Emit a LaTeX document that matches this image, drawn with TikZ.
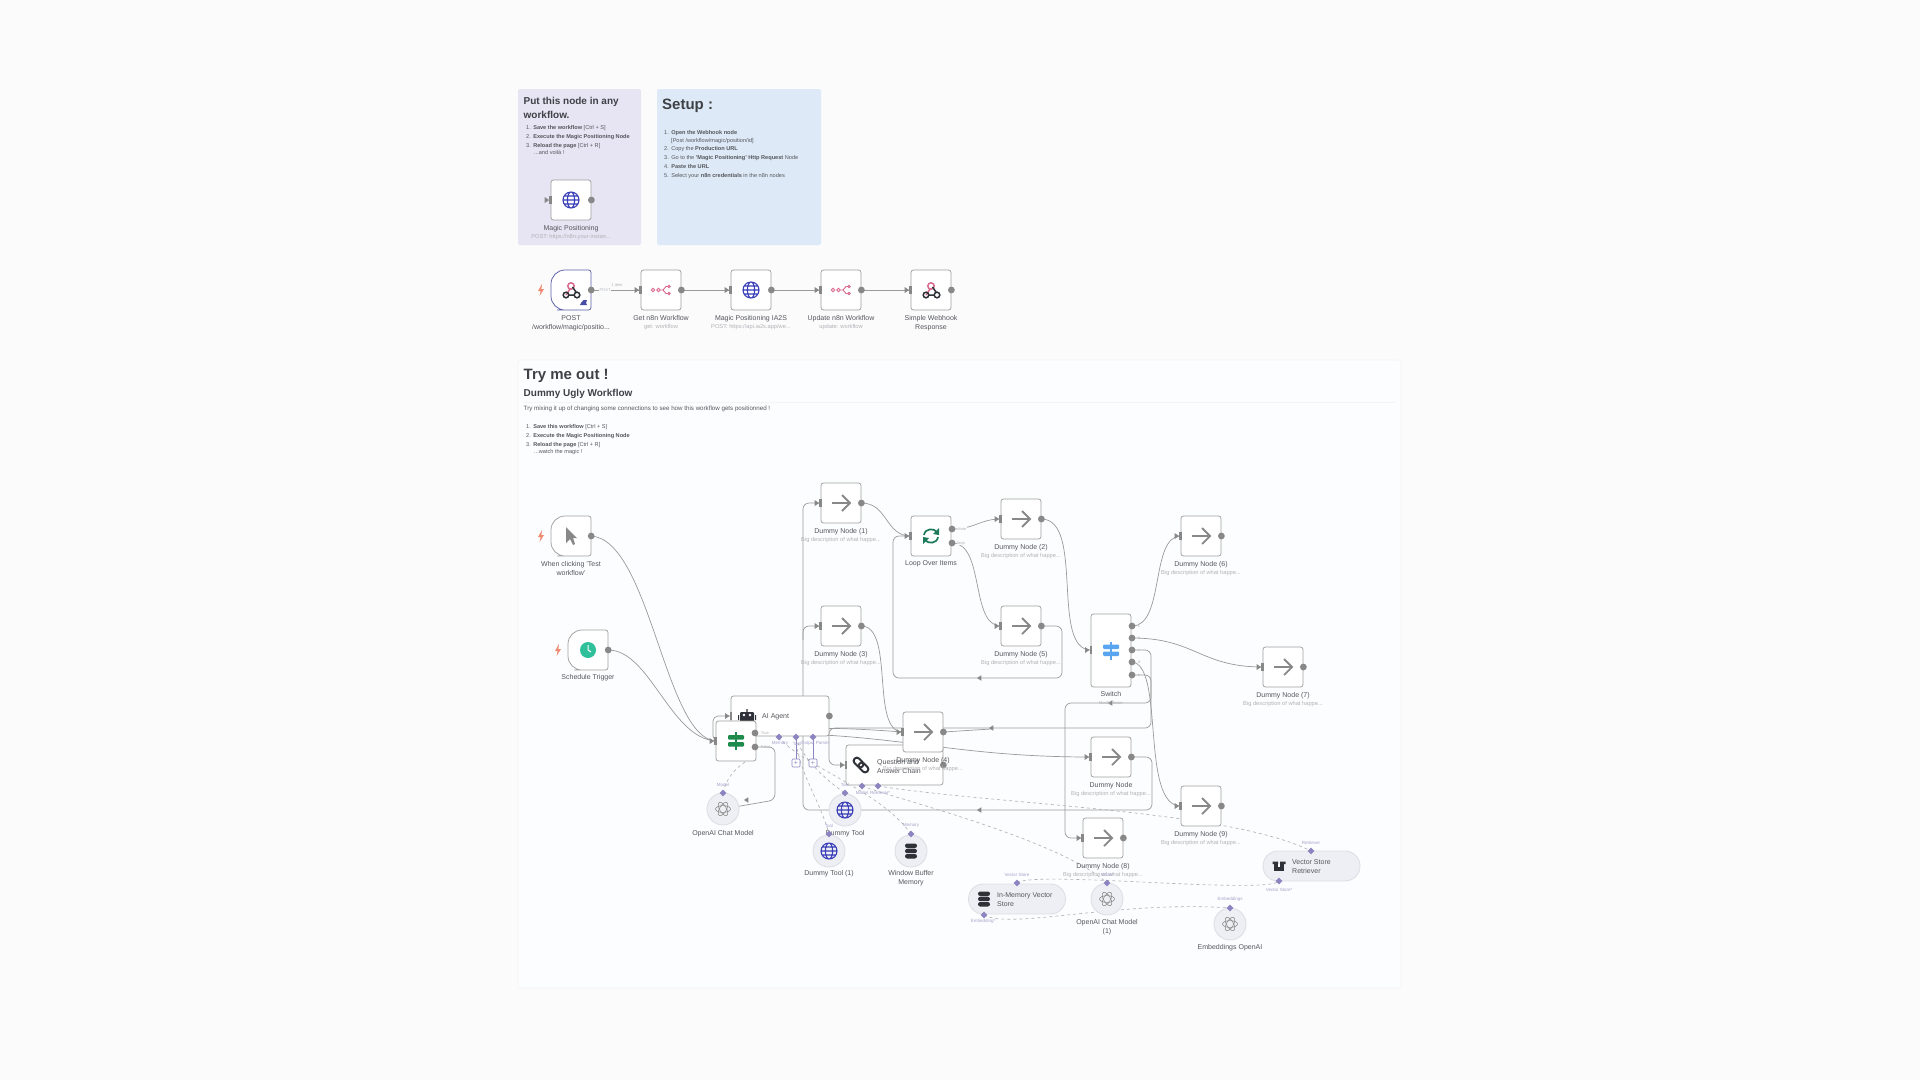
\documentclass[tikz,border=0pt]{standalone}
\usepackage{fontspec}
\setmainfont{Liberation Sans}
\definecolor{pagebg}{HTML}{FBFBFC}
\definecolor{framebg}{HTML}{FCFDFE}
\definecolor{frameln}{HTML}{F3F4F6}
\definecolor{stickyp}{HTML}{E7E4F3}
\definecolor{stickyb}{HTML}{DDE9F6}
\definecolor{nodeln}{HTML}{A0A0A0}
\definecolor{edgec}{HTML}{9A9A9A}
\definecolor{portc}{HTML}{888888}
\definecolor{labc}{HTML}{55575C}
\definecolor{subc}{HTML}{B2B2B6}
\definecolor{headc}{HTML}{3E4146}
\definecolor{purp}{HTML}{8A85C0}
\definecolor{purptx}{HTML}{A5A2CC}
\definecolor{subnode}{HTML}{EEEFF4}
\definecolor{subln}{HTML}{DEDFE4}
\definecolor{globec}{HTML}{3A3FB8}
\definecolor{pinkc}{HTML}{D9688C}
\definecolor{darkc}{HTML}{2E3238}
\definecolor{boltc}{HTML}{F08A72}
\definecolor{clockc}{HTML}{2FBF9B}
\definecolor{loopc}{HTML}{1C7A5A}
\definecolor{signblue}{HTML}{5AA5EF}
\definecolor{signgreen}{HTML}{1E8A4C}
\definecolor{hookln}{HTML}{5B5EA6}
\definecolor{pinc}{HTML}{4A4DA8}
\colorlet{signc}{signblue}
\newcommand{\fsz}[1]{\fontsize{#1}{#1}\selectfont}
\newcommand{\nsp}{\hspace{2.4pt}}
\tikzset{
  x=1pt,y=-1pt,
  box/.style={draw=nodeln,fill=white,line width=.75pt,rounded corners=2.5pt,minimum width=40pt,minimum height=40pt,inner sep=0pt},
  blank/.style={minimum width=40pt,minimum height=40pt,inner sep=0pt},
  circ/.style={circle,draw=subln,fill=subnode,line width=.9pt,minimum size=32pt,inner sep=0pt},
  pill/.style={draw=subln,fill=subnode,line width=.9pt,rounded corners=15pt,minimum width=97pt,minimum height=30pt,inner sep=0pt},
  edgeln/.style={draw=edgec,line width=.7pt},
  ortho/.style={draw=edgec,line width=.7pt,rounded corners=6pt},
  dashln/.style={draw=subc,line width=.65pt,dash pattern=on 3pt off 3pt},
  lab/.style={inner sep=0pt,text=labc,font=\fsz{7},align=center,yshift=-1pt},
  sublab/.style={inner sep=0pt,text=subc,font=\fsz{5.7},align=center},
  tiny/.style={inner sep=0pt,text=purptx,font=\fsz{4.5},yshift=-.5pt},
  tinyg/.style={inner sep=.6pt,text=subc,font=\fsz{4},fill=framebg},
  listtx/.style={inner sep=0pt,anchor=west,text=labc,font=\fsz{5.6},yshift=-.7pt},
  headsm/.style={inner sep=0pt,anchor=west,text=headc,font=\fsz{10}\bfseries,yshift=-1.3pt},
  headbg/.style={inner sep=0pt,anchor=west,text=headc,font=\fsz{15}\bfseries,yshift=-1.7pt},
  plusbox/.style={draw=purp,fill=white,line width=.6pt,rounded corners=1pt,minimum size=8pt,inner sep=0pt,text=purp,font=\fsz{7}},
  arrowicon/.pic={\draw[portc,line width=1.8pt] (-9,0)--(8,0) (1,-8)--(9,0)--(1,8);},
  globeicon/.pic={\draw[globec,line width=1.1pt] (0,0) circle (8) (0,0) ellipse (3.6 and 8) (-8,0)--(8,0) (-7,-4)--(7,-4) (-7,4)--(7,4);},
  n8nicon/.pic={\draw[pinkc,line width=.9pt] (-8,0) circle (1.8) (-2.5,0) circle (1.8) (-.7,0)--(2,0)--(5,-3.5)--(7,-3.5) (2,0)--(5,3.5)--(7,3.5) (8,-3.5) circle (1.3) (8,3.5) circle (1.3);},
  hookicon/.pic={\draw[pinkc,line width=1.5pt] (0,-4) circle (3.2) (-1,-1)--(-5,5);
                 \draw[darkc,line width=1.5pt] (-5,5) circle (2.8) (6,5) circle (2.8) (-2,5)--(3,5) (1.5,-3)--(5,2);},
  cursoricon/.pic={\fill[portc] (-5,-9)--(-5,7)--(-1,3)--(2,9)--(4,8)--(2,2)--(6,2)--cycle;},
  clockicon/.pic={\fill[clockc] (0,0) circle (8); \draw[white,line width=1pt] (0,-5)--(0,0)--(3,2);},
  loopicon/.pic={\draw[loopc,line width=1.7pt] (-7,-1) .. controls (-6,-8) and (3,-8) .. (6,-4) (7,1) .. controls (6,8) and (-3,8) .. (-6,4);
                 \fill[loopc] (8,-8)--(8,-1)--(2,-2)--cycle (-8,8)--(-8,1)--(-2,2)--cycle;},
  signicon/.pic={\fill[signc] (-.8,-9) rectangle (.8,9); \fill[signc,rounded corners=1pt] (-8,-6) rectangle (8,-1.5) (-8,1) rectangle (8,5.5);},
  roboticon/.pic={\fill[darkc,rounded corners=1pt] (-7,-4) rectangle (7,6); \fill[darkc] (-.7,-7) rectangle (.7,-4) (-9,-1) rectangle (-8,4) (8,-1) rectangle (9,4); \fill[white] (-3,-1) circle (1.3) (3,-1) circle (1.3);},
  chainicon/.pic={\draw[darkc,line width=2pt,rounded corners=3pt,rotate=-45] (-9,-3.2) rectangle (2,3.2) (-2,-3.2) rectangle (9,3.2);},
  dbicon/.pic={\fill[darkc,rounded corners=2.2pt] (-6,-7.5) rectangle (6,-3) (-6,-2.2) rectangle (6,2.2) (-6,3) rectangle (6,7.5);},
  aiicon/.pic={\draw[portc,line width=.55pt] (0,0) ellipse (7.5 and 3.4);
               \draw[portc,line width=.55pt,rotate=60] (0,0) ellipse (7.5 and 3.4);
               \draw[portc,line width=.55pt,rotate=120] (0,0) ellipse (7.5 and 3.4);},
  boxicon/.pic={\fill[darkc] (-5,-2) rectangle (5,4.5); \fill[darkc] (-6.5,-4.5)--(-1,-4.5)--(-1,-2)--(-6.5,-2)--cycle (1,-4.5)--(6.5,-4.5)--(6.5,-2)--(1,-2)--cycle; \fill[white] (-1,-2) rectangle (1,.5);},
  inport/.pic={\fill[portc] (-1.5,-4) rectangle (1,4); \fill[portc] (-6,-3)--(-1.5,0)--(-6,3)--cycle;},
  outport/.pic={\fill[portc] (0,0) circle (3.4);},
  midmark/.pic={\fill[portc] (2.4,-2.8)--(-2,0)--(2.4,2.8)--cycle;},
  diam/.pic={\fill[purp] (0,-3.4)--(3.4,0)--(0,3.4)--(-3.4,0)--cycle;},
  bolt/.pic={\fill[boltc] (1,-6)--(-3,1)--(-.4,1)--(-1.4,6)--(3,-1)--(.4,-1)--cycle;},
}
% function node: name, x, y, icon, label, sub
\newcommand{\fnode}[6]{%
  \node[box] (#1) at (#2,#3) {};
  \pic at (#1) {#4};
  \pic at (#1.west) {inport};
  \pic at (#1.east) {outport};
  \node[lab,anchor=north] (#1-l) at ([yshift=-3.5pt]#1.south) {#5};
  \node[sublab] (#1-s) at ([yshift=-16.5pt]#1.south) {#6};
}
\newcommand{\dummy}[5]{\fnode{#1}{#2}{#3}{arrowicon}{#4}{#5}}
% trigger shape: name, x, y, border colour
\newcommand{\trig}[4]{%
  \draw[#4,fill=white,line width=.75pt,rounded corners=14pt] (#2,#3-20) -- (#2-20,#3-20) -- (#2-20,#3+20) -- (#2,#3+20) [rounded corners=2.5pt] -- (#2+20,#3+20) -- (#2+20,#3-20) -- cycle;
  \node[blank] (#1) at (#2,#3) {};
  \pic at (#1.east) {outport};
  \pic at ([xshift=-30pt]#1.center) {bolt};
}
\newcommand{\bigt}{Big description of what happe...}
\begin{document}
\begin{tikzpicture}
\useasboundingbox (0,0) rectangle (1920,1080);
\fill[pagebg] (0,0) rectangle (1920,1080);
% frames
\draw[frameln,fill=framebg,line width=.7pt,rounded corners=2pt] (518,360) rectangle (1401,988);
\fill[stickyp,rounded corners=2pt] (518,89) rectangle (641,245);
\fill[stickyb,rounded corners=2pt] (657,89) rectangle (821,245);
% sticky 1 text
\node[headsm] (s1a) at (523.5,101) {Put this node in any};
\node[headsm] (s1b) at (523.5,114) {workflow.};
\node[listtx] (s1c) at (526,127) {1.\nsp\textbf{Save the workflow} {[Ctrl + S]}};
\node[listtx] (s1d) at (526,136) {2.\nsp\textbf{Execute the Magic Positioning Node}};
\node[listtx] (s1e) at (526,145) {3.\nsp\textbf{Reload the page} {[Ctrl + R]}};
\node[listtx] (s1f) at (534,152) {...and voil\`a !};
% sticky 2 text
\node[headbg] (s2a) at (662,104) {Setup :};
\node[listtx] (s2b) at (664,132) {1.\nsp\textbf{Open the Webhook node}};
\node[listtx] (s2c) at (671,140) {[Post /workflow/magic/position/id]};
\node[listtx] (s2d) at (664,148) {2.\nsp Copy the \textbf{Production URL}};
\node[listtx] (s2e) at (664,157) {3.\nsp Go to the \textbf{'Magic Positioning' Http Request} Node};
\node[listtx] (s2f) at (664,166) {4.\nsp\textbf{Paste the URL}};
\node[listtx] (s2g) at (664,175) {5.\nsp Select your \textbf{n8n credentials} in the n8n nodes};
% try me out text
\node[headbg] (t1) at (523.5,374) {Try me out !};
\node[headsm] (t2) at (523.5,393) {Dummy Ugly Workflow};
\draw[frameln,line width=.6pt] (523,402) -- (1396,402);
\node[listtx,font=\fsz{6.2}] (t3) at (523.5,408) {Try mixing it up of changing some connections to see how this workflow gets positionned !};
\node[listtx] (t4) at (526,426) {1.\nsp\textbf{Save this workflow} {[Ctrl + S]}};
\node[listtx] (t5) at (526,435) {2.\nsp\textbf{Execute the Magic Positioning Node}};
\node[listtx] (t6) at (526,444) {3.\nsp\textbf{Reload the page} {[Ctrl + R]}};
\node[listtx] (t7) at (534,451) {...watch the magic !};

% anchors of nodes (placed now so edges can be drawn beneath the shapes)
\node[blank] (cwh) at (571,290) {};
\node[blank] (cget) at (661,290) {};
\node[blank] (cia) at (751,290) {};
\node[blank] (cupd) at (841,290) {};
\node[blank] (csim) at (931,290) {};
\node[blank] (cclick) at (571,536) {};
\node[blank] (csch) at (588,650) {};
\node[blank] (cd1) at (841,503) {};
\node[blank] (cd2) at (1021,519) {};
\node[blank] (cd3) at (841,626) {};
\node[blank] (cd4) at (923,732) {};
\node[blank] (cd5) at (1021,626) {};
\node[blank] (cd6) at (1201,536) {};
\node[blank] (cd7) at (1283,667) {};
\node[blank] (cd8) at (1103,838) {};
\node[blank] (cd9) at (1201,806) {};
\node[blank] (cdn) at (1111,757) {};
\node[blank] (cloop) at (931,536) {};
\node[blank] (cif) at (736,741) {};
\coordinate (agentin) at (731,716);
\coordinate (qain) at (846,765);
\coordinate (swin) at (1091,650);
\coordinate (lpa) at (952,529);
\coordinate (lpb) at (952,543);
\coordinate (ifa) at (755,733);
\coordinate (ifb) at (755,747);
\coordinate (swa) at (1132,626);
\coordinate (swb) at (1132,638);
\coordinate (swc) at (1132,650);
\coordinate (swd) at (1132,662);
\coordinate (swe) at (1132,675);
\coordinate (dag) at (779,737);
\coordinate (dto) at (796,737);
\coordinate (dop) at (813,737);
\coordinate (dqm) at (862,786);
\coordinate (dqr) at (878,786);
\coordinate (dvt) at (1311,851);
\coordinate (dvb) at (1279,881);
\coordinate (dit) at (1017,883);
\coordinate (dib) at (984,915);
\coordinate (dcm) at (723,793);
\coordinate (dt0) at (845,793);
\coordinate (dt1) at (829,834);
\coordinate (dwb) at (911,834);
\coordinate (dc1) at (1107,883);
\coordinate (dem) at (1230,908);
\coordinate (cmc) at (723,809);

% solid edges
\draw[edgeln] (cwh.east) -- (cget.west);
\draw[edgeln] (cget.east) -- (cia.west);
\draw[edgeln] (cia.east) -- (cupd.west);
\draw[edgeln] (cupd.east) -- (csim.west);
\draw[edgeln] (cclick.east) .. controls (650,540) and (665,738) .. (cif.west);
\draw[edgeln] (csch.east) .. controls (650,650) and (670,738) .. (cif.west);
\draw[edgeln,rounded corners=5pt] (cif.west) -- (713,741) -- (713,716) -- (agentin);
\draw[ortho] (ifb) -- (775,747) -- (775,800) -- (cmc);
\draw[edgeln] (ifa) .. controls (800,726) and (850,728) .. (cd4.west);
\draw[edgeln] (ifa) .. controls (900,733) and (950,757) .. (cdn.west);
\draw[ortho] (cdn.east) -- (1152,757) -- (1152,810) -- (803,810) -- (803,503) -- (cd1.west);
\draw[ortho] (803,640) -- (803,626) -- (cd3.west);
\draw[edgeln] (cd1.east) .. controls (888,503) and (885,536) .. (cloop.west);
\draw[edgeln] (cd3.east) .. controls (895,626) and (870,732) .. (cd4.west);
\draw[ortho] (cd5.east) -- (1062,626) -- (1062,678) -- (893,678) -- (893,536) -- (cloop.west);
\draw[edgeln] (lpa) .. controls (975,529) and (980,519) .. (cd2.west);
\draw[edgeln] (lpb) .. controls (985,543) and (970,626) .. (cd5.west);
\draw[edgeln] (cd2.east) .. controls (1085,519) and (1050,650) .. (swin);
\draw[edgeln] (swa) .. controls (1165,626) and (1150,536) .. (cd6.west);
\draw[edgeln] (swb) .. controls (1195,638) and (1200,667) .. (cd7.west);
\draw[ortho] (swc) -- (1151,650) -- (1151,703) -- (1065,703) -- (1065,838) -- (cd8.west);
\draw[edgeln] (swd) .. controls (1165,665) and (1140,806) .. (cd9.west);
\draw[ortho] (swe) -- (1151,675) -- (1151,728) -- (829,728) -- (829,765) -- (qain);
\draw[edgeln] (cd4.east) -- (991,729);
% mid-edge marks
\pic at (979,678) {midmark};
\pic at (991,728) {midmark};
\pic at (979,810) {midmark};
\pic at (1110,703) {midmark};
\pic at (746,800) {midmark};
% dashed edges
\draw[dashln] (dcm) .. controls (726,780) and (733,770) .. (745,762);
\draw[dashln] (dag) .. controls (800,765) and (880,790) .. (dwb);
\draw[dashln] (dto) .. controls (800,755) and (825,780) .. (dt0);
\draw[dashln] (dto) .. controls (797,770) and (820,800) .. (dt1);
\draw[dashln] (dqm) .. controls (900,800) and (1060,840) .. (dc1);
\draw[dashln] (dqr) .. controls (1000,805) and (1230,810) .. (dvt);
\draw[dashln] (dit) .. controls (1030,870) and (1270,895) .. (dvb);
\draw[dashln] (dib) .. controls (1010,930) and (1120,900) .. (dem);

% purple stubs for sub-node plus boxes
\draw[purp,line width=.6pt] (dto) -- (796,759);
\draw[purp,line width=.6pt] (dop) -- (813,759);

% top row
\trig{wh}{571}{290}{hookln}
\pic at (wh) {hookicon};
\fill[pinc] (583.5,300) -- (587,300) -- (586,303) -- (587,305) -- (580,305) -- (581,303) -- cycle;
\node[lab] (wh-l) at (571,322) {POST\\[2pt]/workflow/magic/positio...};
\node[tinyg] (wh-a) at (605,290) {POST};
\node[tinyg,fill=none] (wh-b) at (617,285) {1 item};
\fnode{get}{661}{290}{n8nicon}{Get n8n Workflow}{get: workflow}
\fnode{iaz}{751}{290}{globeicon}{Magic Positioning IA2S}{POST: https://api.ia2s.app/we...}
\fnode{upd}{841}{290}{n8nicon}{Update n8n Workflow}{update: workflow}
\fnode{sim}{931}{290}{hookicon}{Simple Webhook\\[2pt]Response}{}
\fnode{mag}{571}{200}{globeicon}{Magic Positioning}{POST: https://n8n.your-instan...}

% triggers
\trig{click}{571}{536}{nodeln}
\pic at (click) {cursoricon};
\node[lab] (click-l) at (571,567.5) {When clicking 'Test\\[2pt]workflow'};
\trig{sch}{588}{650}{nodeln}
\pic at (sch) {clockicon};
\node[lab] (sch-l) at (588,677) {Schedule Trigger};

% dummy nodes
\dummy{d1}{841}{503}{Dummy Node (1)}{\bigt}
\dummy{d3}{841}{626}{Dummy Node (3)}{\bigt}
\dummy{d2}{1021}{519}{Dummy Node (2)}{\bigt}
\dummy{d5}{1021}{626}{Dummy Node (5)}{\bigt}
\dummy{d6}{1201}{536}{Dummy Node (6)}{\bigt}
\dummy{d7}{1283}{667}{Dummy Node (7)}{\bigt}
\dummy{dn}{1111}{757}{Dummy Node}{\bigt}
\dummy{d9}{1201}{806}{Dummy Node (9)}{\bigt}
\dummy{d8}{1103}{838}{Dummy Node (8)}{\bigt}

% loop
\node[box] (loop) at (931,536) {};
\pic at (loop) {loopicon};
\pic at (loop.west) {inport};
\pic at (lpa) {outport};
\pic at (lpb) {outport};
\node[lab] (loop-l) at (931,563) {Loop Over Items};
\node[tinyg,anchor=west] (loop-a) at (956.5,529) {done};
\node[tinyg,anchor=west] (loop-b) at (956.5,543) {loop};

% switch
\node[box,minimum height=73pt] (sw) at (1111,650.5) {};
\colorlet{signc}{signblue}
\pic at (sw) {signicon};
\pic at (swin) {inport};
\pic at (swa) {outport};
\pic at (swb) {outport};
\pic at (swc) {outport};
\pic at (swd) {outport};
\pic at (swe) {outport};
\node[lab] (sw-l) at (1111,693) {Switch};
\node[tinyg,fill=none] (sw-m) at (1111,703) {Modify Tester};
\node[tinyg,anchor=west,fill=none] (sw-a) at (1137,626) {c};
\node[tinyg,anchor=west,fill=none] (sw-b) at (1137,638) {b};
\node[tinyg,anchor=west,fill=none] (sw-c) at (1137,650) {c};
\node[tinyg,anchor=west,fill=none] (sw-d) at (1137,662) {d};
\node[tinyg,anchor=west,fill=none] (sw-e) at (1137,675) {e};

% AI agent
\node[box,minimum width=98pt] (agent) at (780,716) {};
\pic at (747,716) {roboticon};
\node[lab,anchor=west] (agent-l) at (762,715.5) {AI Agent};
\pic at (agentin) {inport};
\pic at (agent.east) {outport};
\pic at (dag) {diam};
\pic at (dto) {diam};
\pic at (dop) {diam};
\node[tiny] (ag-a) at (780,743) {Memory};
\node[tiny] (ag-b) at (797,743) {Tool};
\node[tiny] (ag-c) at (815,743) {Output Parser};
\node[plusbox] (pl1) at (796,763) {+};
\node[plusbox] (pl2) at (813,763) {+};

% green branch node
\node[box] (ifn) at (736,741) {};
\colorlet{signc}{signgreen}
\pic at (ifn) {signicon};
\pic at (ifn.west) {inport};
\pic at (ifa) {outport};
\pic at (ifb) {outport};
\node[tinyg,anchor=west,fill=none] (if-a) at (760,733) {True};
\node[tinyg,anchor=west,fill=none] (if-b) at (760,747) {False};

% chain
\node[box,minimum width=97pt] (qa) at (894.5,765) {};
\pic at (861,765) {chainicon};
\pic at (qain) {inport};
\pic at (qa.east) {outport};
\node[lab,anchor=west,align=left] (qa-l) at (877,765) {Question and\\[2pt]Answer Chain};
\pic at (dqm) {diam};
\pic at (dqr) {diam};
\node[tiny] (qa-a) at (862,792) {Model};
\node[tiny] (qa-b) at (880,792) {Retriever*};

% dummy 4 on top of chain
\dummy{d4}{923}{732}{Dummy Node (4)}{\bigt}

% sub-nodes
\node[circ] (cm) at (cmc) {};
\pic at (cm) {aiicon};
\pic at (dcm) {diam};
\node[tiny] (cm-t) at (723,784) {Model};
\node[lab] (cm-l) at (723,833) {OpenAI Chat Model};

\node[lab] (t0-l) at (845,833) {Dummy Tool};
\node[circ] (t0) at (845,810) {};
\pic at (t0) {globeicon};
\pic at (dt0) {diam};
\node[tiny] (t0-t) at (845,784) {Tool};

\node[circ] (t1c) at (829,851) {};
\pic at (t1c) {globeicon};
\pic at (dt1) {diam};
\node[tiny] (t1-t) at (829,825) {Tool};
\node[lab] (t1-l) at (829,873) {Dummy Tool (1)};

\node[circ] (wb) at (911,851) {};
\pic at (wb) {dbicon};
\pic at (dwb) {diam};
\node[tiny] (wb-t) at (911,825) {Memory};
\node[lab] (wb-l) at (911,877.5) {Window Buffer\\[2pt]Memory};

\node[pill] (ims) at (1017,899) {};
\pic at (984,899) {dbicon};
\node[lab,anchor=west,align=left] (ims-l) at (997,899) {In-Memory Vector\\[2pt]Store};
\pic at (dit) {diam};
\pic at (dib) {diam};
\node[tiny] (ims-t) at (1017,874) {Vector Store};
\node[tiny] (ims-b) at (983,921) {Embedding*};

\node[circ] (c1) at (1107,899) {};
\pic at (c1) {aiicon};
\pic at (dc1) {diam};
\node[tiny] (c1-t) at (1107,874) {Model};
\node[lab] (c1-l) at (1107,926.5) {OpenAI Chat Model\\[2pt](1)};

\node[pill] (vsr) at (1311.5,866) {};
\pic at (1279,866) {boxicon};
\node[lab,anchor=west,align=left] (vsr-l) at (1292,866) {Vector Store\\[2pt]Retriever};
\pic at (dvt) {diam};
\pic at (dvb) {diam};
\node[tiny] (vsr-t) at (1311,842) {Retriever};
\node[tiny] (vsr-b) at (1279,889) {Vector Store*};

\node[circ] (em) at (1230,924) {};
\pic at (em) {aiicon};
\pic at (dem) {diam};
\node[tiny] (em-t) at (1230,899) {Embeddings};
\node[lab] (em-l) at (1230,947) {Embeddings OpenAI};
\end{tikzpicture}
\end{document}
